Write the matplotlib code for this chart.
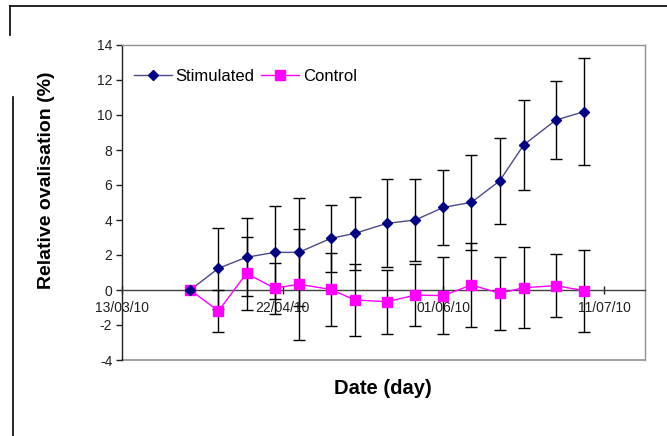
import matplotlib
matplotlib.use("Agg")
import matplotlib.pyplot as plt
import matplotlib.dates as mdates
from matplotlib.lines import Line2D
import numpy as np
import datetime as dt

plt.rcParams['font.family'] = ['Liberation Sans', 'DejaVu Sans']
plt.rcParams['axes.unicode_minus'] = False

# Measurement dates (days after 13/03/10)
start = dt.date(2010, 3, 13)
day_offsets = [17, 24, 31, 38, 44, 52, 58, 66, 73, 80, 87, 94, 100, 108, 115]
dates = [start + dt.timedelta(days=d) for d in day_offsets]

stimulated = [0, 1.24, 1.87, 2.15, 2.15, 2.95, 3.24, 3.81, 4.00, 4.72, 5.01, 6.23, 8.29, 9.71, 10.19]
stimulated_err = [0, 2.32, 2.23, 2.65, 3.09, 1.91, 2.09, 2.52, 2.34, 2.14, 2.70, 2.47, 2.55, 2.23, 3.05]
control = [0, -1.20, 0.95, 0.10, 0.33, 0.03, -0.57, -0.67, -0.29, -0.32, 0.29, -0.19, 0.13, 0.25, -0.04]
control_err = [0, 1.22, 2.10, 1.45, 3.16, 2.08, 2.06, 1.84, 1.75, 2.19, 2.38, 2.10, 2.30, 1.80, 2.35]

tick_dates = [dt.date(2010, 3, 13), dt.date(2010, 4, 22), dt.date(2010, 6, 1), dt.date(2010, 7, 11)]

fig = plt.figure(figsize=(6.67, 4.36), dpi=100)
ax = fig.add_axes([122 / 667, 76 / 436, 523 / 667, 315 / 436])

x = mdates.date2num(dates)
stim_col = '#000080'
stim_line = '#4a4a8c'
ctrl_col = '#ff00ff'

# error bars (no bar on the first point)
ax.errorbar(x[1:], stimulated[1:], yerr=stimulated_err[1:], fmt='none',
            ecolor='black', elinewidth=1.0, capsize=4.5, capthick=1.0, zorder=3)
ax.errorbar(x[1:], control[1:], yerr=control_err[1:], fmt='none',
            ecolor='black', elinewidth=1.0, capsize=4.5, capthick=1.0, zorder=3)

ax.plot(x, stimulated, color=stim_line, lw=1.0, zorder=4)
ax.plot(x, stimulated, ls='none', marker='D', ms=5.5, color=stim_col, zorder=6)
ax.plot(x, control, color=ctrl_col, lw=1.0, zorder=4)
ax.plot(x, control, ls='none', marker='s', ms=7.5, color=ctrl_col, zorder=5)

x0 = mdates.date2num(start)
ax.set_xlim(x0, x0 + 130.2)
ax.set_ylim(-4, 14)
ax.set_yticks(np.arange(-4, 15, 2))
ax.set_xticks(mdates.date2num(tick_dates))
ax.xaxis.set_major_formatter(mdates.DateFormatter('%d/%m/%y'))

# horizontal axis runs through zero
ax.spines['bottom'].set_position(('data', 0))
ax.spines['bottom'].set_color('#404040')
ax.spines['left'].set_color('#202020')
for s in ('top', 'right'):
    ax.spines[s].set_color('#909090')
ax.axhline(-4, color='#909090', lw=1.2, clip_on=False, zorder=1)
for s in ax.spines.values():
    s.set_linewidth(1.0)

ax.tick_params(axis='y', direction='out', length=4, width=1, labelsize=10, colors='#202020', pad=3)
ax.tick_params(axis='x', direction='inout', length=6, width=1, labelsize=10, colors='#202020', pad=5)

fig.text(383 / 667, 1 - 388 / 436, 'Date (day)', ha='center', va='center',
         fontsize=14.5, fontweight='bold')
fig.text(47 / 667, 1 - 180 / 436, 'Relative ovalisation (%)', ha='center', va='center',
         rotation=90, fontsize=14, fontweight='bold')

handles = [Line2D([], [], color=stim_line, lw=1.0, marker='D', ms=5.5,
                  markerfacecolor=stim_col, markeredgecolor=stim_col),
           Line2D([], [], color=ctrl_col, lw=1.0, marker='s', ms=7.5)]
ax.legend(handles, ['Stimulated', 'Control'], loc='upper left', ncol=2, frameon=False,
          fontsize=12, handlelength=2.3, handletextpad=0.2, columnspacing=0.4,
          bbox_to_anchor=(0.0, 0.96), borderaxespad=0.3)

# page frame lines
fig.add_artist(Line2D([10 / 667, 1.0], [1 - 6 / 436, 1 - 6 / 436], color='black', lw=1.2))
fig.add_artist(Line2D([10 / 667, 10 / 667], [1 - 6 / 436, 1 - 35 / 436], color='black', lw=1.2))
fig.add_artist(Line2D([12.5 / 667, 12.5 / 667], [1 - 97 / 436, 0.0], color='black', lw=1.2))

fig.savefig('out.png', dpi=100)
